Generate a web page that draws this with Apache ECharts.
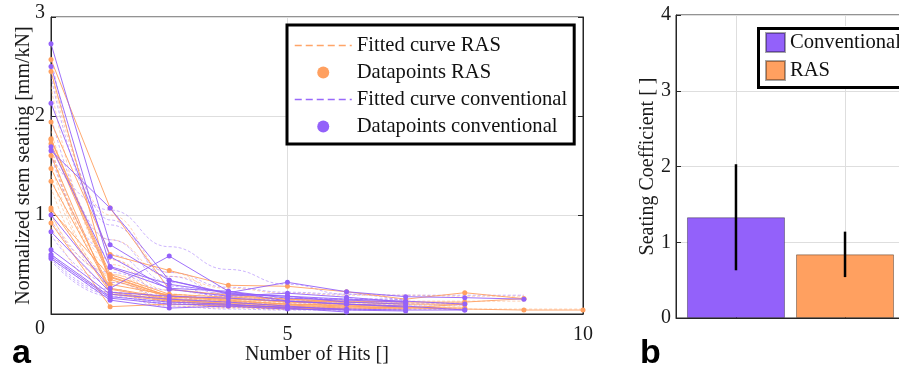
<!DOCTYPE html>
<html>
<head>
<meta charset="utf-8">
<script src="https://cdn.jsdelivr.net/npm/echarts@6/dist/echarts.min.js"></script>
<style>
html, body { margin: 0; padding: 0; background: #fff; }
#chart { width: 899px; height: 365px; }
</style>
</head>
<body>
<div id="chart"></div>
<script>
// hit number for each measurement
var hits = [1, 2, 3, 4, 5, 6, 7, 8, 9, 10];

// normalized stem seating per hit [mm/kN], one row per specimen
var rasPoints = [
  [2.57, 1.07, 0.25, 0.19, 0.15, 0.12, 0.10, 0.10],
  [1.94, 0.60, 0.44, 0.29, 0.28, 0.225, 0.15, 0.215, 0.155],
  [1.77, 0.40, 0.20, 0.17, 0.15, 0.13, 0.12, 0.12, 0.155],
  [1.76, 0.37, 0.18, 0.13, 0.10, 0.08, 0.06, 0.05, 0.04, 0.04],
  [1.72, 0.35, 0.17, 0.16, 0.12, 0.10, 0.08],
  [1.47, 0.26, 0.16, 0.12, 0.08, 0.06, 0.05],
  [1.34, 0.25, 0.15, 0.10, 0.07, 0.05],
  [1.07, 0.22, 0.14, 0.11, 0.09, 0.07, 0.06, 0.10],
  [0.92, 0.074, 0.10, 0.08, 0.06, 0.05],
  [2.45, 0.30, 0.19, 0.14, 0.10, 0.09, 0.07, 0.06],
  [1.60, 0.20, 0.13, 0.09, 0.06, 0.05],
  [1.05, 0.38, 0.18, 0.15, 0.13, 0.12]
];
var rasFit = [
  [2.45, 1.00, 0.42, 0.20, 0.12, 0.10, 0.10, 0.10],
  [1.85, 0.75, 0.38, 0.26, 0.21, 0.19, 0.19, 0.18, 0.18],
  [1.70, 0.55, 0.24, 0.16, 0.14, 0.13, 0.13, 0.13, 0.13],
  [1.70, 0.45, 0.15, 0.08, 0.06, 0.05, 0.05, 0.05, 0.05, 0.05],
  [1.65, 0.50, 0.20, 0.13, 0.11, 0.10, 0.10],
  [1.40, 0.40, 0.14, 0.08, 0.06, 0.05, 0.05],
  [1.28, 0.36, 0.13, 0.07, 0.05, 0.05],
  [1.02, 0.32, 0.14, 0.10, 0.08, 0.08, 0.08, 0.08],
  [0.88, 0.22, 0.08, 0.06, 0.05, 0.05],
  [2.30, 0.55, 0.17, 0.10, 0.08, 0.07, 0.07, 0.07],
  [1.52, 0.38, 0.12, 0.07, 0.05, 0.05],
  [1.00, 0.40, 0.20, 0.14, 0.12, 0.12]
];
var convPoints = [
  [2.73, 0.70, 0.34, 0.21, 0.18, 0.15, 0.13, 0.10],
  [2.50, 0.48, 0.30, 0.215, 0.32, 0.225, 0.175, 0.165, 0.15],
  [2.13, 0.58, 0.25, 0.18, 0.21, 0.17, 0.12],
  [1.65, 1.07, 0.34, 0.20, 0.18, 0.12, 0.10],
  [1.69, 0.47, 0.26, 0.23, 0.13, 0.10, 0.07],
  [1.00, 0.26, 0.585, 0.23, 0.16, 0.14, 0.12],
  [0.83, 0.22, 0.18, 0.16, 0.13, 0.10, 0.08, 0.04],
  [0.65, 0.20, 0.15, 0.12, 0.08, 0.04],
  [0.60, 0.175, 0.12, 0.10, 0.06, 0.02],
  [0.56, 0.14, 0.06, 0.08, 0.05, 0.04, 0.03],
  [0.58, 0.16, 0.10, 0.09, 0.07, 0.05, 0.04, 0.04]
];
var convFit = [
  [2.60, 0.95, 0.38, 0.20, 0.14, 0.12, 0.11, 0.11],
  [2.40, 0.90, 0.42, 0.27, 0.22, 0.20, 0.19, 0.19, 0.19],
  [2.00, 0.75, 0.32, 0.20, 0.16, 0.15, 0.15],
  [1.60, 1.05, 0.68, 0.45, 0.30, 0.20, 0.13],
  [1.60, 0.60, 0.28, 0.17, 0.13, 0.12, 0.12],
  [0.95, 0.42, 0.24, 0.18, 0.16, 0.15, 0.15],
  [0.80, 0.32, 0.17, 0.12, 0.10, 0.09, 0.09, 0.09],
  [0.62, 0.25, 0.13, 0.09, 0.07, 0.06],
  [0.58, 0.22, 0.11, 0.07, 0.05, 0.04],
  [0.54, 0.18, 0.08, 0.05, 0.04, 0.04, 0.04],
  [0.56, 0.20, 0.10, 0.07, 0.06, 0.05, 0.05, 0.05]
];

// seating coefficient (mean, sd)
var groups = ['Conventional', 'RAS'];
var groupPos = [1, 2];
var seatMean = [1.33, 0.84];
var seatSd = [0.70, 0.30];

var orange = '#FFA060';
var purple = '#9361FA';
var serif = 'Liberation Serif';
var axisColor = '#262626';
var gridColor = '#dedede';

function toXY(arr) {
  return arr.map(function (v, i) { return [hits[i], v]; });
}

var series = [];
function addFit(name, list, color) {
  list.forEach(function (f) {
    series.push({
      name: name, type: 'line', xAxisIndex: 0, yAxisIndex: 0,
      data: toXY(f), smooth: true, smoothMonotone: 'x', symbol: 'none',
      lineStyle: { color: color, width: 0.8, type: [3, 2], opacity: 0.6 },
      itemStyle: { color: color }, silent: true
    });
  });
}
function addPoints(name, list, color) {
  list.forEach(function (p) {
    series.push({
      name: name, type: 'line', xAxisIndex: 0, yAxisIndex: 0,
      data: toXY(p), symbol: 'circle', symbolSize: 5,
      lineStyle: { color: color, width: 1, opacity: 0.9 },
      itemStyle: { color: color }, silent: true
    });
  });
}
addFit('Fitted curve RAS', rasFit, orange);
addFit('Fitted curve conventional', convFit, purple);
addPoints('Datapoints RAS', rasPoints, orange);
addPoints('Datapoints conventional', convPoints, purple);

[purple, orange].forEach(function (c, i) {
  series.push({
    name: groups[i], type: 'bar', xAxisIndex: 1, yAxisIndex: 2,
    data: [[groupPos[i], seatMean[i]]], barWidth: 98, barGap: '-100%',
    itemStyle: { color: c, borderColor: 'rgba(0,0,0,0.35)', borderWidth: 1 }
  });
});
series.push({
  type: 'custom', xAxisIndex: 1, yAxisIndex: 2, z: 10,
  data: groupPos.map(function (x, i) { return [x, seatMean[i] - seatSd[i], seatMean[i] + seatSd[i]]; }),
  encode: { x: 0, y: [1, 2] },
  renderItem: function (params, api) {
    var lo = api.coord([api.value(0), api.value(1)]);
    var hi = api.coord([api.value(0), api.value(2)]);
    return {
      type: 'line',
      shape: { x1: lo[0], y1: lo[1], x2: hi[0], y2: hi[1] },
      style: { stroke: '#000', lineWidth: 2.5 }
    };
  }
});

var labelFont = { fontFamily: serif, fontSize: 20, color: '#1a1a1a' };
var legendText = { fontFamily: serif, fontSize: 20.6, color: '#111', lineHeight: 20 };

var myChart = echarts.init(document.getElementById('chart'));
var option = {
  animation: false,
  grid: [
    { left: 51, top: 17, width: 532, height: 297, show: true, borderColor: axisColor, borderWidth: 1, outerBoundsMode: 'none' },
    { left: 676, top: 15, width: 229, height: 303, show: true, borderColor: axisColor, borderWidth: 1, outerBoundsMode: 'none' }
  ],
  legend: [
    {
      data: [
        { name: 'Fitted curve RAS', itemStyle: { opacity: 0 },
          lineStyle: { color: orange, type: [7, 4], width: 1.5, opacity: 0.95 } },
        { name: 'Datapoints RAS', icon: 'circle' },
        { name: 'Fitted curve conventional', itemStyle: { opacity: 0 },
          lineStyle: { color: purple, type: [7, 4], width: 1.5, opacity: 0.95 } },
        { name: 'Datapoints conventional', icon: 'circle' }
      ],
      orient: 'vertical', left: 287, top: 25,
      itemWidth: 57, itemHeight: 12, itemGap: 6,
      padding: [10, 7, 7, 7],
      borderColor: '#000', borderWidth: 3, backgroundColor: '#fff',
      selectedMode: false,
      textStyle: legendText
    },
    {
      data: groups, icon: 'rect',
      orient: 'vertical', left: 756, top: 26,
      itemWidth: 19, itemHeight: 19, itemGap: 7,
      padding: [6, 20, 6, 9],
      backgroundColor: '#fff',
      selectedMode: false,
      textStyle: legendText
    }
  ],
  xAxis: [
    {
      gridIndex: 0, type: 'value', min: 1, max: 10,
      name: 'Number of Hits []', nameLocation: 'middle', nameGap: 31, nameMoveOverlap: false,
      nameTextStyle: labelFont,
      axisLine: { show: true, lineStyle: { color: axisColor } },
      axisTick: { show: true, inside: true, length: 5, customValues: [5, 10], lineStyle: { color: axisColor } },
      axisLabel: Object.assign({ customValues: [5, 10], margin: 11 }, labelFont),
      splitLine: { show: true, lineStyle: { color: gridColor } }
    },
    {
      gridIndex: 1, type: 'value', min: 0.45, max: 2.55,
      axisLine: { show: true, lineStyle: { color: axisColor } },
      axisTick: { show: true, inside: true, length: 5, customValues: [1, 2], lineStyle: { color: axisColor } },
      axisLabel: { show: false, customValues: [1, 2] },
      splitLine: { show: true, lineStyle: { color: gridColor } }
    }
  ],
  yAxis: [
    {
      gridIndex: 0, type: 'value', min: 0, max: 3, interval: 1,
      name: 'Normalized stem seating [mm/kN]', nameLocation: 'middle', nameGap: 17, nameMoveOverlap: false,
      nameTextStyle: labelFont,
      axisLine: { show: true, lineStyle: { color: axisColor } },
      axisTick: { show: true, inside: true, length: 5, lineStyle: { color: axisColor } },
      axisLabel: Object.assign({
        margin: 6,
        formatter: function (v) {
          if (v === 0) return '{lo|0}';
          if (v === 3) return '{hi|3}';
          return String(v);
        },
        rich: {
          lo: { fontFamily: serif, fontSize: 20, color: '#1a1a1a', padding: [30, 0, 0, 0] },
          hi: { fontFamily: serif, fontSize: 20, color: '#1a1a1a', padding: [0, 0, 8, 0] }
        }
      }, labelFont),
      splitLine: { show: true, lineStyle: { color: gridColor } }
    },
    {
      gridIndex: 0, type: 'value', position: 'right', min: 0, max: 3, interval: 1,
      axisLine: { show: true, lineStyle: { color: axisColor } },
      axisTick: { show: true, inside: true, length: 5, lineStyle: { color: axisColor } },
      axisLabel: { show: false },
      splitLine: { show: false }
    },
    {
      gridIndex: 1, type: 'value', min: 0, max: 4, interval: 1,
      name: 'Seating Coefficient [ ]', nameLocation: 'middle', nameGap: 18, nameMoveOverlap: false,
      nameTextStyle: labelFont,
      axisLine: { show: true, lineStyle: { color: axisColor } },
      axisTick: { show: true, inside: true, length: 5, lineStyle: { color: axisColor } },
      axisLabel: Object.assign({ margin: 5 }, labelFont),
      splitLine: { show: true, lineStyle: { color: gridColor } }
    }
  ],
  graphic: [
    { type: 'rect', left: 756, top: 26, z: 5, shape: { width: 170, height: 59 },
      style: { fill: 'none', stroke: '#000', lineWidth: 3 } },
    { type: 'text', left: 12, top: 337, style: { text: 'a', font: 'bold 34px "Liberation Sans"', fill: '#000' } },
    { type: 'text', left: 640, top: 337, style: { text: 'b', font: 'bold 34px "Liberation Sans"', fill: '#000' } }
  ],
  series: series
};
option && myChart.setOption(option);
</script>
</body>
</html>
